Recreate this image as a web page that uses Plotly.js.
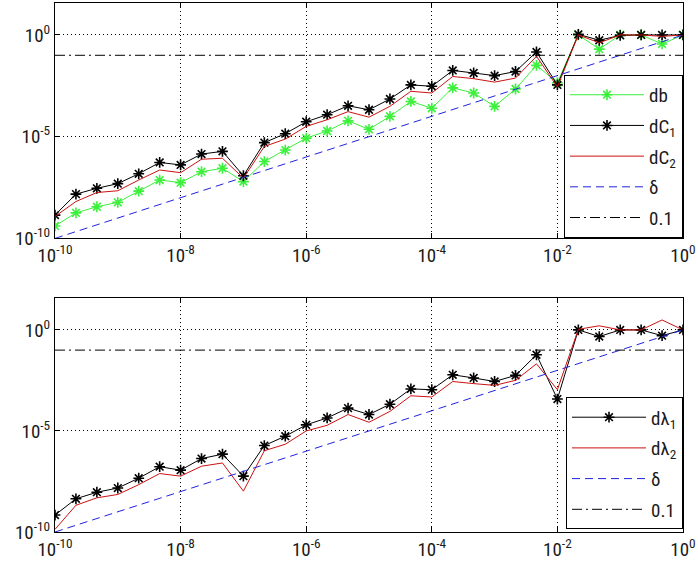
<!DOCTYPE html>
<html>
<head>
<meta charset="utf-8">
<script src="https://cdn.plot.ly/plotly-3.0.1.min.js"></script>
<style>html,body{margin:0;padding:0;background:#fff;}#chart{width:698px;height:571px;}</style>
</head>
<body>
<div id="chart"></div>
<script>
// x values (perturbation size)
const xVals = [1e-10, 2.154e-10, 4.642e-10, 1e-9, 2.154e-9, 4.642e-9, 1e-8, 2.154e-8, 4.642e-8, 1e-7,
  2.154e-7, 4.642e-7, 1e-6, 2.154e-6, 4.642e-6, 1e-5, 2.154e-5, 4.642e-5, 1e-4, 2.154e-4,
  4.642e-4, 1e-3, 2.154e-3, 4.642e-3, 1e-2, 2.154e-2, 4.642e-2, 0.1, 0.2154, 0.4642, 1];

// top panel
const db = [4.1e-10, 1.8e-9, 3.6e-9, 5.9e-9, 2.1e-8, 7.4e-8, 5.5e-8, 1.9e-7, 2.8e-7, 6.2e-8,
  6.0e-7, 2.2e-6, 8.5e-6, 1.9e-5, 6.0e-5, 2.3e-5, 1.0e-4, 5.4e-4, 2.5e-4, 2.5e-3,
  1.4e-3, 3.1e-4, 2.2e-3, 3.2e-2, 4.5e-3, 1.0, 0.2, 1.0, 1.0, 0.36, 1.0];
const dC1 = [1.4e-9, 1.5e-8, 2.9e-8, 4.9e-8, 1.5e-7, 5.4e-7, 4.1e-7, 1.4e-6, 1.9e-6, 1.2e-7,
  5.1e-6, 1.4e-5, 5.4e-5, 1.2e-4, 3.3e-4, 2.1e-4, 7.1e-4, 3.5e-3, 3.0e-3, 1.8e-2,
  1.35e-2, 1.0e-2, 1.6e-2, 0.145, 3.5e-3, 1.07, 0.55, 0.95, 1.0, 1.0, 1.0];
const dC2 = [1.2e-9, 6.5e-9, 1.8e-8, 2.2e-8, 7.4e-8, 2.3e-7, 1.7e-7, 7.8e-7, 8.7e-7, 9.1e-8,
  3.3e-6, 7.6e-6, 3.2e-5, 6.8e-5, 1.7e-4, 9.1e-5, 3.1e-4, 1.7e-3, 1.4e-3, 9.1e-3,
  7.1e-3, 4.8e-3, 7.6e-3, 8.9e-2, 2.8e-3, 1.0, 0.41, 1.0, 1.0, 0.85, 1.0];

// bottom panel
const dL1 = [6.9e-10, 4.4e-9, 9.3e-9, 1.5e-8, 4.6e-8, 1.7e-7, 1.15e-7, 4.3e-7, 7.1e-7, 5.8e-8,
  1.9e-6, 5.5e-6, 2.0e-5, 4.4e-5, 1.35e-4, 6.5e-5, 2.1e-4, 1.2e-3, 1.1e-3, 6.0e-3,
  4.2e-3, 2.8e-3, 5.6e-3, 5.9e-2, 3.8e-4, 1.0, 0.47, 1.0, 1.0, 0.52, 1.0];
const dL2 = [1.35e-10, 2.1e-9, 4.9e-9, 7.2e-9, 2.2e-8, 7.8e-8, 5.8e-8, 1.8e-7, 2.6e-7, 1.05e-8,
  1.05e-6, 2.2e-6, 1.0e-5, 1.9e-5, 6.5e-5, 2.7e-5, 9.3e-5, 5.5e-4, 4.8e-4, 2.8e-3,
  2.2e-3, 1.8e-3, 3.2e-3, 2.1e-2, 1.1e-3, 1.07, 1.6, 1.0, 1.0, 3.1, 1.0];

// reference lines
const delta = [1e-10, 2.154e-10, 4.642e-10, 1e-9, 2.154e-9, 4.642e-9, 1e-8, 2.154e-8, 4.642e-8, 1e-7,
  2.154e-7, 4.642e-7, 1e-6, 2.154e-6, 4.642e-6, 1e-5, 2.154e-5, 4.642e-5, 1e-4, 2.154e-4,
  4.642e-4, 1e-3, 2.154e-3, 4.642e-3, 1e-2, 2.154e-2, 4.642e-2, 0.1, 0.2154, 0.4642, 1];
const tol = [0.1, 0.1, 0.1, 0.1, 0.1, 0.1, 0.1, 0.1, 0.1, 0.1, 0.1, 0.1, 0.1, 0.1, 0.1, 0.1,
  0.1, 0.1, 0.1, 0.1, 0.1, 0.1, 0.1, 0.1, 0.1, 0.1, 0.1, 0.1, 0.1, 0.1, 0.1];

// tick labels
const xTickVals = [1e-10, 1e-8, 1e-6, 1e-4, 1e-2, 1];
const xTickText = ['10<sup>-10</sup>', '10<sup>-8</sup>', '10<sup>-6</sup>', '10<sup>-4</sup>', '10<sup>-2</sup>', '10<sup>0</sup>'];
const yTickVals = [1e-10, 1e-5, 1];
const yTickText = ['10<sup>-10</sup>', '10<sup>-5</sup>', '10<sup>0</sup>'];

const GREEN = '#3cf03c', RED = '#cc1111', BLUE = '#2222dd', BLACK = '#000000';
const star = (c) => ({symbol: 'asterisk-open', size: 9, color: c, line: {color: c, width: 1.6}});

const DASH = '8px,5px';
const DASHDOT = '10px,4px,2px,4px';
const traces = [
  {x: xVals, y: db, name: 'db', mode: 'lines+markers', line: {color: GREEN, width: 1}, marker: star(GREEN), xaxis: 'x', yaxis: 'y', legend: 'legend', legendgroup: 'a'},
  {x: xVals, y: dC1, name: 'dC<sub>1</sub>', mode: 'lines+markers', line: {color: BLACK, width: 1}, marker: star(BLACK), xaxis: 'x', yaxis: 'y', legend: 'legend', legendgroup: 'b'},
  {x: xVals, y: dC2, name: 'dC<sub>2</sub>', mode: 'lines', line: {color: RED, width: 1}, xaxis: 'x', yaxis: 'y', legend: 'legend', legendgroup: 'c'},
  {x: xVals, y: delta, name: 'δ', mode: 'lines', line: {color: BLUE, width: 1, dash: DASH}, xaxis: 'x', yaxis: 'y', legend: 'legend', legendgroup: 'd'},
  {x: xVals, y: tol, name: '0.1', mode: 'lines', line: {color: BLACK, width: 1, dash: DASHDOT}, xaxis: 'x', yaxis: 'y', legend: 'legend', legendgroup: 'e'},

  {x: xVals, y: dL1, name: 'dλ<sub>1</sub>', mode: 'lines+markers', line: {color: BLACK, width: 1}, marker: star(BLACK), xaxis: 'x2', yaxis: 'y2', legend: 'legend2', legendgroup: 'f'},
  {x: xVals, y: dL2, name: 'dλ<sub>2</sub>', mode: 'lines', line: {color: RED, width: 1}, xaxis: 'x2', yaxis: 'y2', legend: 'legend2', legendgroup: 'g'},
  {x: xVals, y: delta, name: 'δ', mode: 'lines', line: {color: BLUE, width: 1, dash: DASH}, xaxis: 'x2', yaxis: 'y2', legend: 'legend2', legendgroup: 'h'},
  {x: xVals, y: tol, name: '0.1', mode: 'lines', line: {color: BLACK, width: 1, dash: DASHDOT}, xaxis: 'x2', yaxis: 'y2', legend: 'legend2', legendgroup: 'i'}
];

const FONT = {family: 'Roboto Condensed, Liberation Sans, Arial, sans-serif', size: 19, color: '#1a1a1a'};
const xax = (anchor) => ({
  type: 'log', range: [-10, 0], anchor: anchor, domain: [0, 1],
  tickvals: xTickVals, ticktext: xTickText, tickfont: FONT, ticklabeloverflow: 'allow',
  showline: true, linecolor: BLACK, linewidth: 1, mirror: 'ticks',
  ticks: 'inside', ticklen: 5, tickcolor: BLACK,
  showgrid: true, gridcolor: BLACK, griddash: '1px,3px', gridwidth: 1, zeroline: false
});
const yax = (anchor, dom) => ({
  type: 'log', range: [-10, 1.57], anchor: anchor, domain: dom,
  tickvals: yTickVals, ticktext: yTickText, tickfont: FONT, ticklabeloverflow: 'allow',
  showline: true, linecolor: BLACK, linewidth: 1, mirror: 'ticks',
  ticks: 'inside', ticklen: 5, tickcolor: BLACK,
  showgrid: true, gridcolor: BLACK, griddash: '1px,3px', gridwidth: 1, zeroline: false
});
const leg = (y) => ({
  x: 1, xanchor: 'right', y: y, yanchor: 'bottom',
  bgcolor: '#ffffff', bordercolor: BLACK, borderwidth: 1,
  font: FONT, traceorder: 'grouped', tracegroupgap: 3, itemwidth: 74
});

const layout = {
  width: 698, height: 571,
  margin: {l: 55, r: 15, t: 3, b: 39},
  paper_bgcolor: '#ffffff', plot_bgcolor: '#ffffff',
  font: FONT,
  showlegend: true,
  xaxis: xax('y'),
  yaxis: yax('x', [0.555, 1]),
  xaxis2: xax('y2'),
  yaxis2: yax('x2', [0, 0.442]),
  legend: leg(0.556),
  legend2: leg(0.005)
};

Plotly.newPlot('chart', traces, layout, {staticPlot: true, displayModeBar: false});
</script>
</body>
</html>
